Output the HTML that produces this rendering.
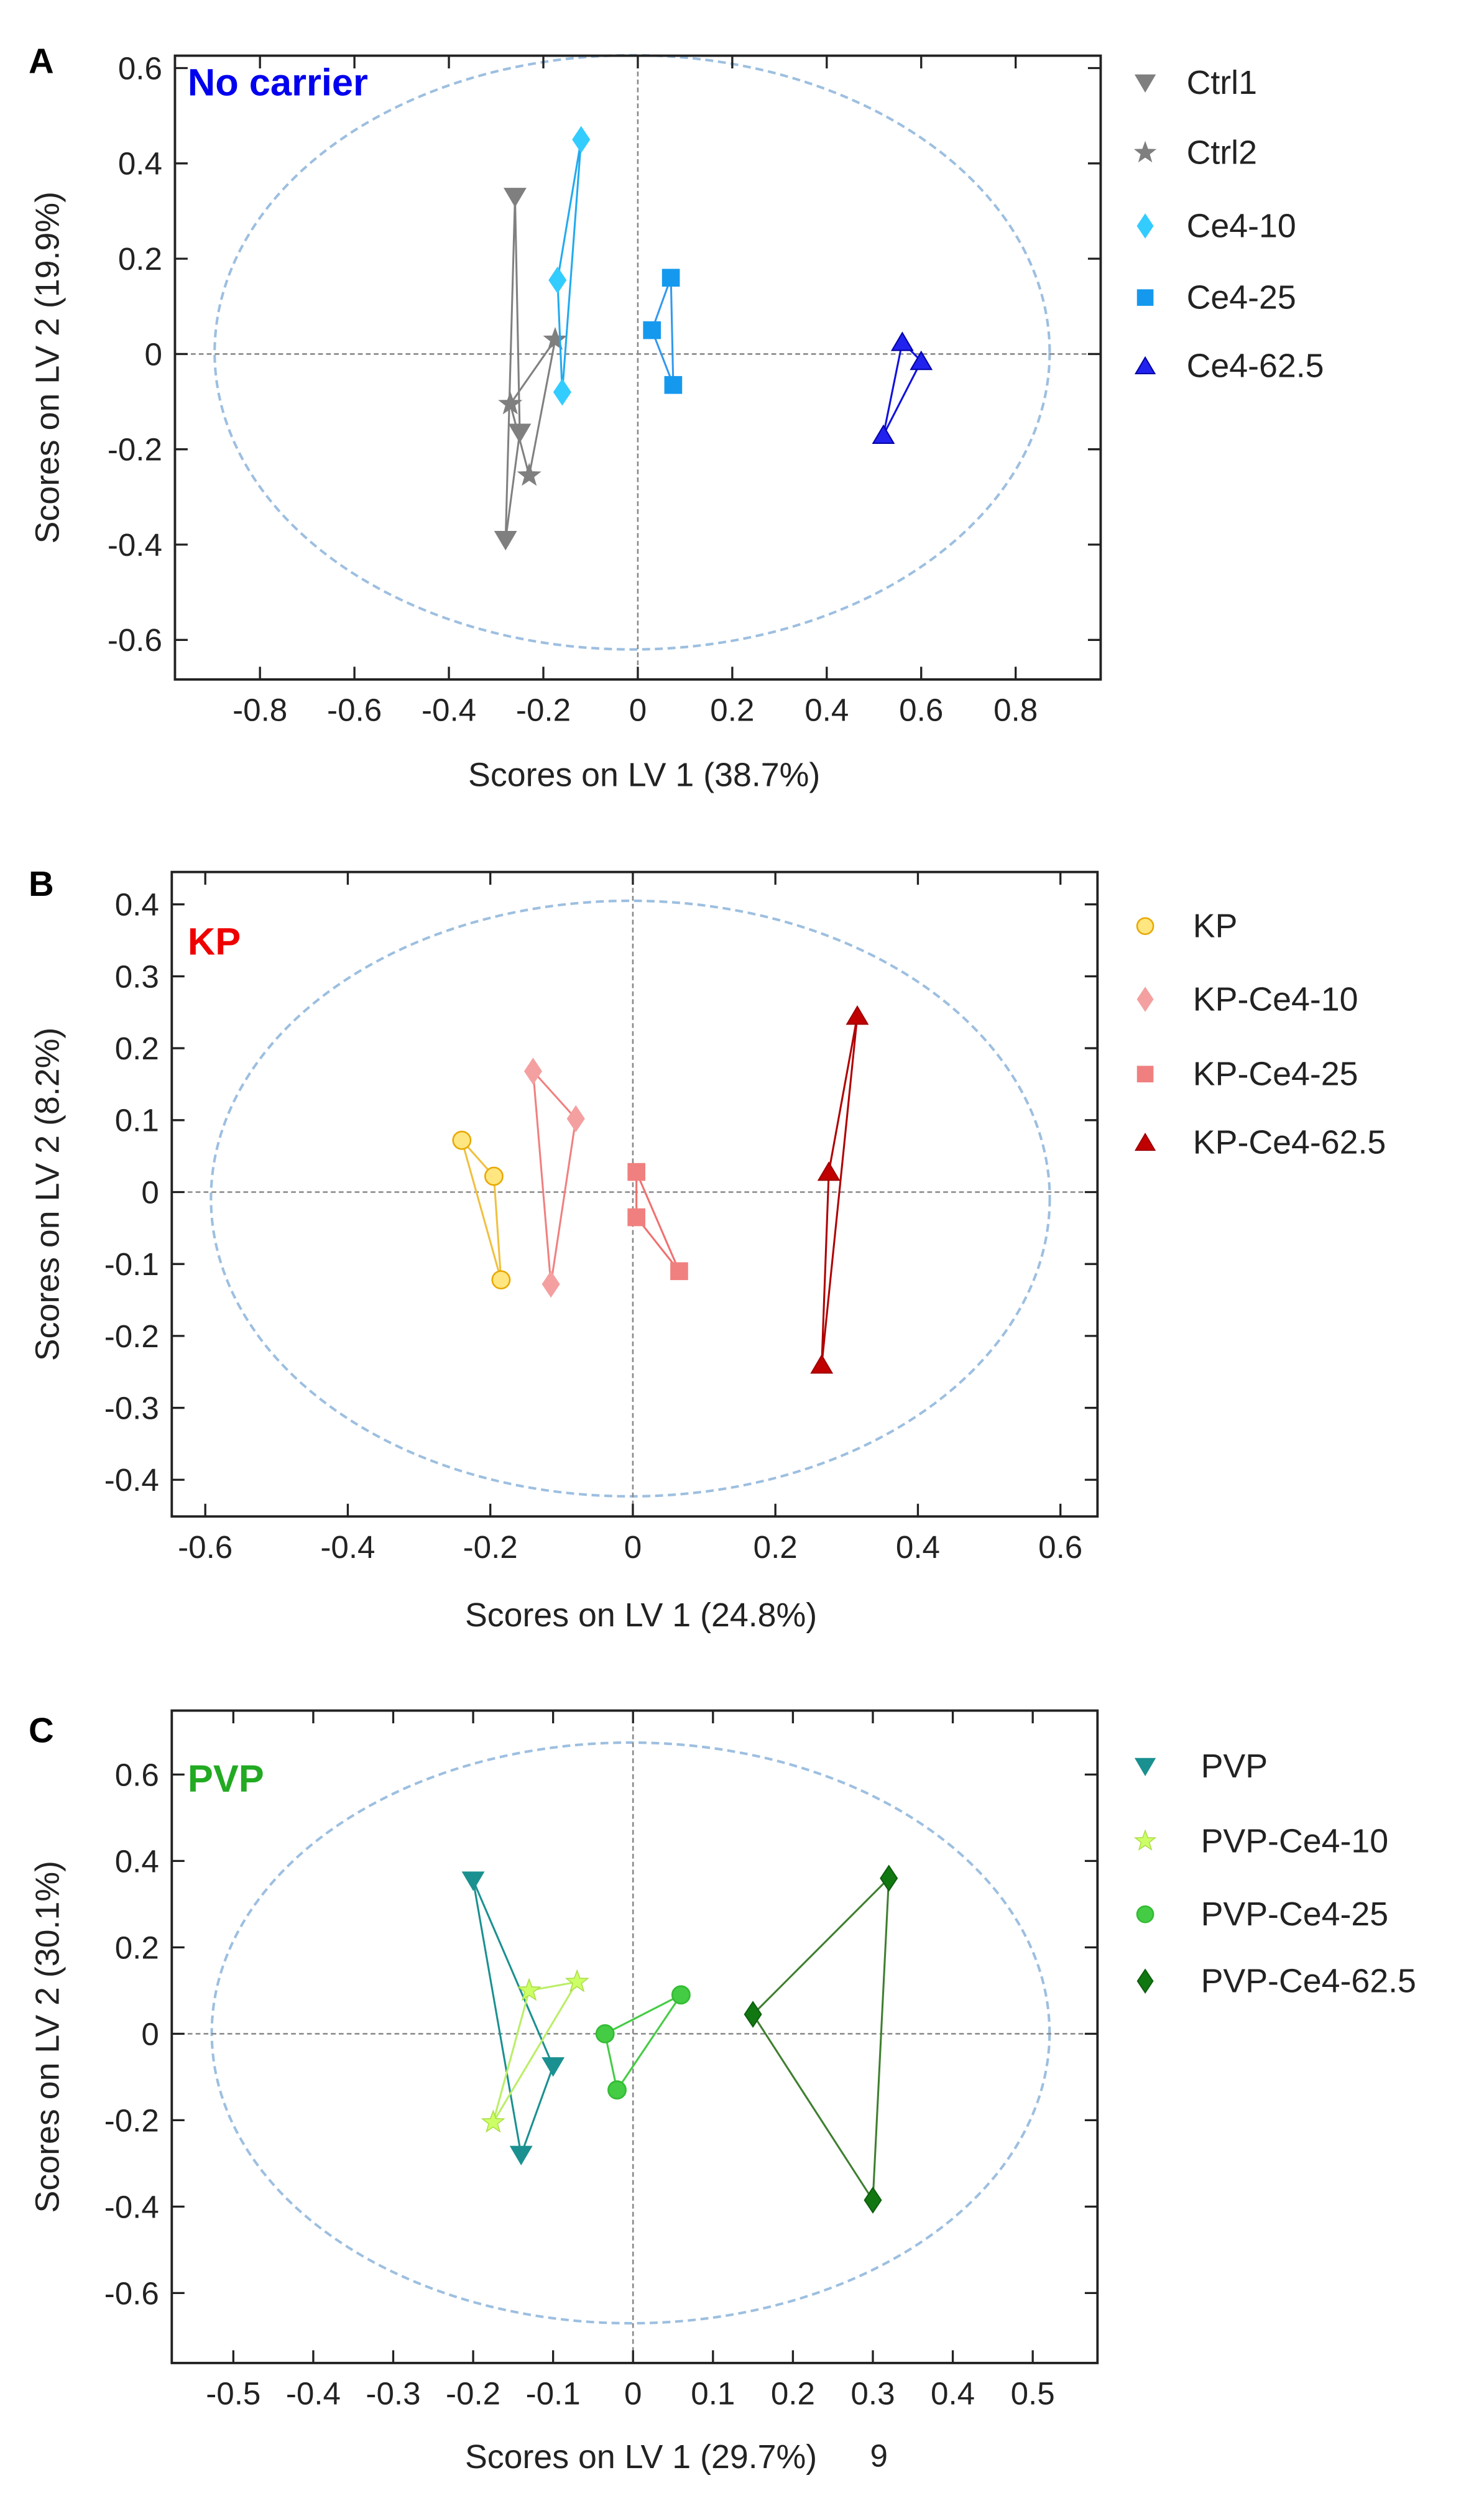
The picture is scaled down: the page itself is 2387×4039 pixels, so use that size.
<!DOCTYPE html>
<html><head><meta charset="utf-8"><style>
html,body{margin:0;padding:0;background:#fff;}
svg{display:block;font-family:"Liberation Sans",Arial,sans-serif;}
</style></head><body>
<svg id="fig" width="2387" height="4039" viewBox="0 0 933 1578" preserveAspectRatio="none" xmlns="http://www.w3.org/2000/svg"></svg>
<script>
// Panel A data
const aSeries = ["Ctrl1","Ctrl2","Ce4-10","Ce4-25","Ce4-62.5"];
const aX = [[-0.26,-0.25,-0.28],[-0.27,-0.175,-0.23],[-0.12,-0.17,-0.16],[0.07,0.03,0.075],[0.56,0.60,0.52]];
const aY = [[0.33,-0.165,-0.39],[-0.105,0.03,-0.255],[0.45,0.155,-0.08],[0.16,0.05,-0.065],[0.025,-0.015,-0.17]];
const aXTicks = [-0.8,-0.6,-0.4,-0.2,0,0.2,0.4,0.6,0.8];
const aYTicks = [0.6,0.4,0.2,0,-0.2,-0.4,-0.6];
// Panel B data
const bSeries = ["KP","KP-Ce4-10","KP-Ce4-25","KP-Ce4-62.5"];
const bX = [[-0.24,-0.195,-0.185],[-0.14,-0.08,-0.115],[0.005,0.005,0.065],[0.315,0.275,0.265]];
const bY = [[0.072,0.022,-0.122],[0.168,0.102,-0.128],[0.028,-0.035,-0.11],[0.245,0.028,-0.24]];
const bXTicks = [-0.6,-0.4,-0.2,0,0.2,0.4,0.6];
const bYTicks = [0.4,0.3,0.2,0.1,0,-0.1,-0.2,-0.3,-0.4];
// Panel C data
const cSeries = ["PVP","PVP-Ce4-10","PVP-Ce4-25","PVP-Ce4-62.5"];
const cX = [[-0.2,-0.1,-0.14],[-0.13,-0.07,-0.175],[-0.035,0.06,-0.02],[0.15,0.32,0.30]];
const cY = [[0.355,-0.075,-0.28],[0.1,0.12,-0.205],[0.0,0.09,-0.13],[0.045,0.36,-0.385]];
const cXTicks = [-0.5,-0.4,-0.3,-0.2,-0.1,0,0.1,0.2,0.3,0.4,0.5];
const cYTicks = [0.6,0.4,0.2,0,-0.2,-0.4,-0.6];

const NS="http://www.w3.org/2000/svg";
const svg=document.getElementById('fig');
function mk(tag,attrs,parent,text){const e=document.createElementNS(NS,tag);for(const k in attrs)e.setAttribute(k,attrs[k]);if(text!==undefined)e.textContent=text;(parent||svg).appendChild(e);return e;}
function marker(g,shape,x,y,fill,stroke,s){
  let e;
  if(shape==='dtri') e=mk('polygon',{points:`${x-s},${y-s*0.8} ${x+s},${y-s*0.8} ${x},${y+s*0.9}`,fill,stroke,'stroke-width':0.8},g);
  else if(shape==='utri') e=mk('polygon',{points:`${x-s},${y+s*0.8} ${x+s},${y+s*0.8} ${x},${y-s*0.9}`,fill,stroke,'stroke-width':0.8},g);
  else if(shape==='diamond') e=mk('polygon',{points:`${x},${y-s*1.2} ${x+s*0.8},${y} ${x},${y+s*1.2} ${x-s*0.8},${y}`,fill,stroke,'stroke-width':0.8},g);
  else if(shape==='square') e=mk('rect',{x:x-s*0.8,y:y-s*0.8,width:s*1.6,height:s*1.6,fill,stroke,'stroke-width':0.8},g);
  else if(shape==='circle') e=mk('circle',{cx:x,cy:y,r:s*0.85,fill,stroke,'stroke-width':1},g);
  else if(shape==='star'){let p=[];for(let i=0;i<10;i++){const r=i%2?s*0.45:s*1.1;const a=-Math.PI/2+i*Math.PI/5;p.push((x+r*Math.cos(a)).toFixed(2)+','+(y+r*Math.sin(a)).toFixed(2));}e=mk('polygon',{points:p.join(' '),fill,stroke,'stroke-width':0.6},g);}
  return e;
}
function panel(o){
  const g=mk('g',{});
  
  
  const sx=v=>o.L+(v-o.xr[0])/(o.xr[1]-o.xr[0])*(o.R-o.L);
  const sy=v=>o.B-(v-o.yr[0])/(o.yr[1]-o.yr[0])*(o.B-o.T);
  // ellipse
  const el=mk('ellipse',{cx:(sx(o.ex[0])+sx(o.ex[1]))/2,cy:(sy(o.ey[0])+sy(o.ey[1]))/2,rx:(sx(o.ex[1])-sx(o.ex[0]))/2,ry:(sy(o.ey[0])-sy(o.ey[1]))/2,fill:'none',stroke:'#9dbfe0','stroke-width':1.6,'stroke-dasharray':'5,3'},g);
  
  
  // zero lines
  const zh=mk('line',{x1:o.L,x2:o.R,y1:sy(0),y2:sy(0),stroke:'#888','stroke-width':1,'stroke-dasharray':'3,2'},g);
  
  
  const zv=mk('line',{x1:sx(0),x2:sx(0),y1:o.T,y2:o.B,stroke:'#888','stroke-width':1,'stroke-dasharray':'3,2'},g);
  
  
  // series
  o.series.forEach((nm,i)=>{
    const sg=mk('g',{},g);
    
    
    const pts=o.xs[i].map((v,j)=>sx(v).toFixed(2)+','+sy(o.ys[i][j]).toFixed(2)).join(' ');
    mk('polygon',{points:pts,fill:'none',stroke:o.lc[i],'stroke-width':1.2},sg);
    o.xs[i].forEach((v,j)=>{const m=marker(sg,o.shapes[i],sx(v),sy(o.ys[i][j]),o.fc[i],o.sc[i],6.5);
      
      });
    // legend
    const ly=o.legY[i];
    const lm=marker(g,o.shapes[i],720,ly,o.fc[i],o.sc[i],6);
    
    
    const lt=mk('text',{x:o.legTX,y:ly+7,'font-size':21,fill:'#222'},g,nm);
    
    
  });
  // frame
  const fr=mk('rect',{x:o.L,y:o.T,width:o.R-o.L,height:o.B-o.T,fill:'none',stroke:'#222','stroke-width':1.5},g);
  
  
  o.xt.forEach(v=>{const x=sx(v);
    mk('line',{x1:x,x2:x,y1:o.B,y2:o.B-8,stroke:'#222','stroke-width':1.3},g);
    mk('line',{x1:x,x2:x,y1:o.T,y2:o.T+8,stroke:'#222','stroke-width':1.3},g);
    const t=mk('text',{x:x,y:o.B+26,'font-size':20,'text-anchor':'middle',fill:'#222'},g,String(v));
    
    });
  o.yt.forEach(v=>{const y=sy(v);
    mk('line',{x1:o.L,x2:o.L+8,y1:y,y2:y,stroke:'#222','stroke-width':1.3},g);
    mk('line',{x1:o.R,x2:o.R-8,y1:y,y2:y,stroke:'#222','stroke-width':1.3},g);
    const t=mk('text',{x:o.L-8,y:y+7,'font-size':20,'text-anchor':'end',fill:'#222'},g,String(v));
    
    });
  const xt=mk('text',{x:(o.L+o.R)/2+4,y:o.xTitleY,'font-size':21,'text-anchor':'middle',fill:'#222'},g,o.xTitle);
  
  
  const cy=(o.T+o.B)/2;
  const yt=mk('text',{x:37,y:cy,'font-size':21,'text-anchor':'middle',fill:'#222',transform:`rotate(-90 37 ${cy})`},g,o.yTitle);
  
  
  const pl=mk('text',{x:18,y:o.labY,'font-size':22,'font-weight':'bold',fill:'#000'},g,o.label);
  
  
  const il=mk('text',{x:118,y:o.insY,'font-size':24,'font-weight':'bold',fill:o.insC},g,o.ins);
  
  
}
panel({name:'panel-a',L:110,R:692,T:35,B:427,xr:[-0.98,0.98],yr:[-0.683,0.626],ex:[-0.896,0.872],ey:[-0.62,0.627],
 series:aSeries,xs:aX,ys:aY,shapes:['dtri','star','diamond','square','utri'],
 fc:['#7f7f7f','#7f7f7f','#33ccff','#1599ee','#2222ee'],sc:['#7f7f7f','#7f7f7f','#33ccff','#1599ee','#0000aa'],
 lc:['#808080','#808080','#22aaee','#3399ee','#1111dd'],legY:[52,96,142,187,230],legTX:746,
 xt:aXTicks,yt:aYTicks,xTitle:'Scores on LV 1 (38.7%)',yTitle:'Scores on LV 2 (19.9%)',xTitleY:494,labY:46,label:'A',insY:60,ins:'No carrier',insC:'#0000ee'});
panel({name:'panel-b',L:108,R:690,T:548,B:953,xr:[-0.647,0.652],yr:[-0.451,0.445],ex:[-0.592,0.585],ey:[-0.423,0.405],
 series:bSeries,xs:bX,ys:bY,shapes:['circle','diamond','square','utri'],
 fc:['#ffe680','#f4a0a0','#f08080','#c00000'],sc:['#e8a800','#f4a0a0','#f08080','#a00000'],
 lc:['#f0c040','#f08080','#f07070','#b00000'],legY:[582,628,675,718],legTX:750,
 xt:bXTicks,yt:bYTicks,xTitle:'Scores on LV 1 (24.8%)',yTitle:'Scores on LV 2 (8.2%)',xTitleY:1022,labY:563,label:'B',insY:600,ins:'KP',insC:'#ee0000'});
panel({name:'panel-c',L:108,R:690,T:1075,B:1485,xr:[-0.577,0.581],yr:[-0.762,0.748],ex:[-0.527,0.521],ey:[-0.67,0.674],
 series:cSeries,xs:cX,ys:cY,shapes:['dtri','star','circle','diamond'],
 fc:['#1a9090','#ccff66','#44cc44','#117711'],sc:['#1a9090','#aadd44','#33bb33','#0d5f0d'],
 lc:['#1a9090','#bbee66','#44cc44','#3f7f2f'],legY:[1110,1157,1203,1245],legTX:755,
 xt:cXTicks,yt:cYTicks,xTitle:'Scores on LV 1 (29.7%)',yTitle:'Scores on LV 2 (30.1%)',xTitleY:1551,labY:1095,label:'C',insY:1126,ins:'PVP',insC:'#22aa22'});
const nine=mk('text',{x:547,y:1550,'font-size':20,fill:'#222'},svg,'9');


</script>
</body></html>
